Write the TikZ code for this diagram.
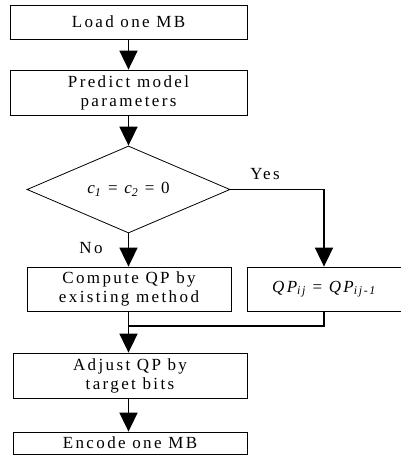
\documentclass[tikz,border=0pt]{standalone}
\usepackage{fontspec}
\setmainfont[LetterSpace=14]{Liberation Serif}
\usetikzlibrary{arrows.meta,shapes.geometric}
\begin{document}
\begin{tikzpicture}[x=1pt,y=-1pt,
  box/.style={draw, line width=0.8pt, inner sep=0pt, align=center, font=\fontsize{17}{19}\selectfont},
  flow/.style={line width=1.8pt, -{Triangle[width=18pt,length=19pt]}},
  joinline/.style={line width=1.8pt},
  lbl/.style={font=\fontsize{17}{19}\selectfont, inner sep=0pt}]
\useasboundingbox (0,0) rectangle (400,464);
\node[box, minimum width=237pt, minimum height=34pt] (b1) at (128.5,22) {Load one MB};
\node[box, minimum width=237pt, minimum height=45pt] (b2) at (128.5,92.5) {Predict model\\parameters};
\node[box, diamond, shape aspect=2.33, minimum width=203pt, minimum height=87pt] (d) at (128.5,189.5)
  {\itshape c\textsubscript{1}\upshape{} = \itshape c\textsubscript{2}\upshape{} = 0};
\node[box, minimum width=204pt, minimum height=44pt] (b3) at (129,289) {Compute QP by\\existing method};
\node[box, minimum width=154pt, minimum height=44pt] (b4) at (324,289)
  {\itshape QP\textsubscript{ij}\upshape{} = \itshape QP\textsubscript{ij-1}};
\node[box, minimum width=234pt, minimum height=45pt] (b5) at (130,375.5) {Adjust QP by\\target bits};
\node[box, minimum width=234pt, minimum height=22pt] (b6) at (130,443) {Encode one MB};
\coordinate (m) at (128.5,326);
\node[lbl] (yes) at (265,174) {Yes};
\node[lbl] (no) at (91,248) {No};
\draw[flow] (b1.south) -- (b2.north);
\draw[flow] (b2.south) -- (d.north);
\draw[flow] (d.south) -- (b3.north -| d.south);
\draw[flow] (d.east) -| (b4.north);
\draw[joinline] (b4.south) |- (m);
\draw[flow] (b3.south -| m) -- (b5.north -| m);
\draw[flow] (b5.south -| m) -- (b6.north -| m);
\end{tikzpicture}
\end{document}
